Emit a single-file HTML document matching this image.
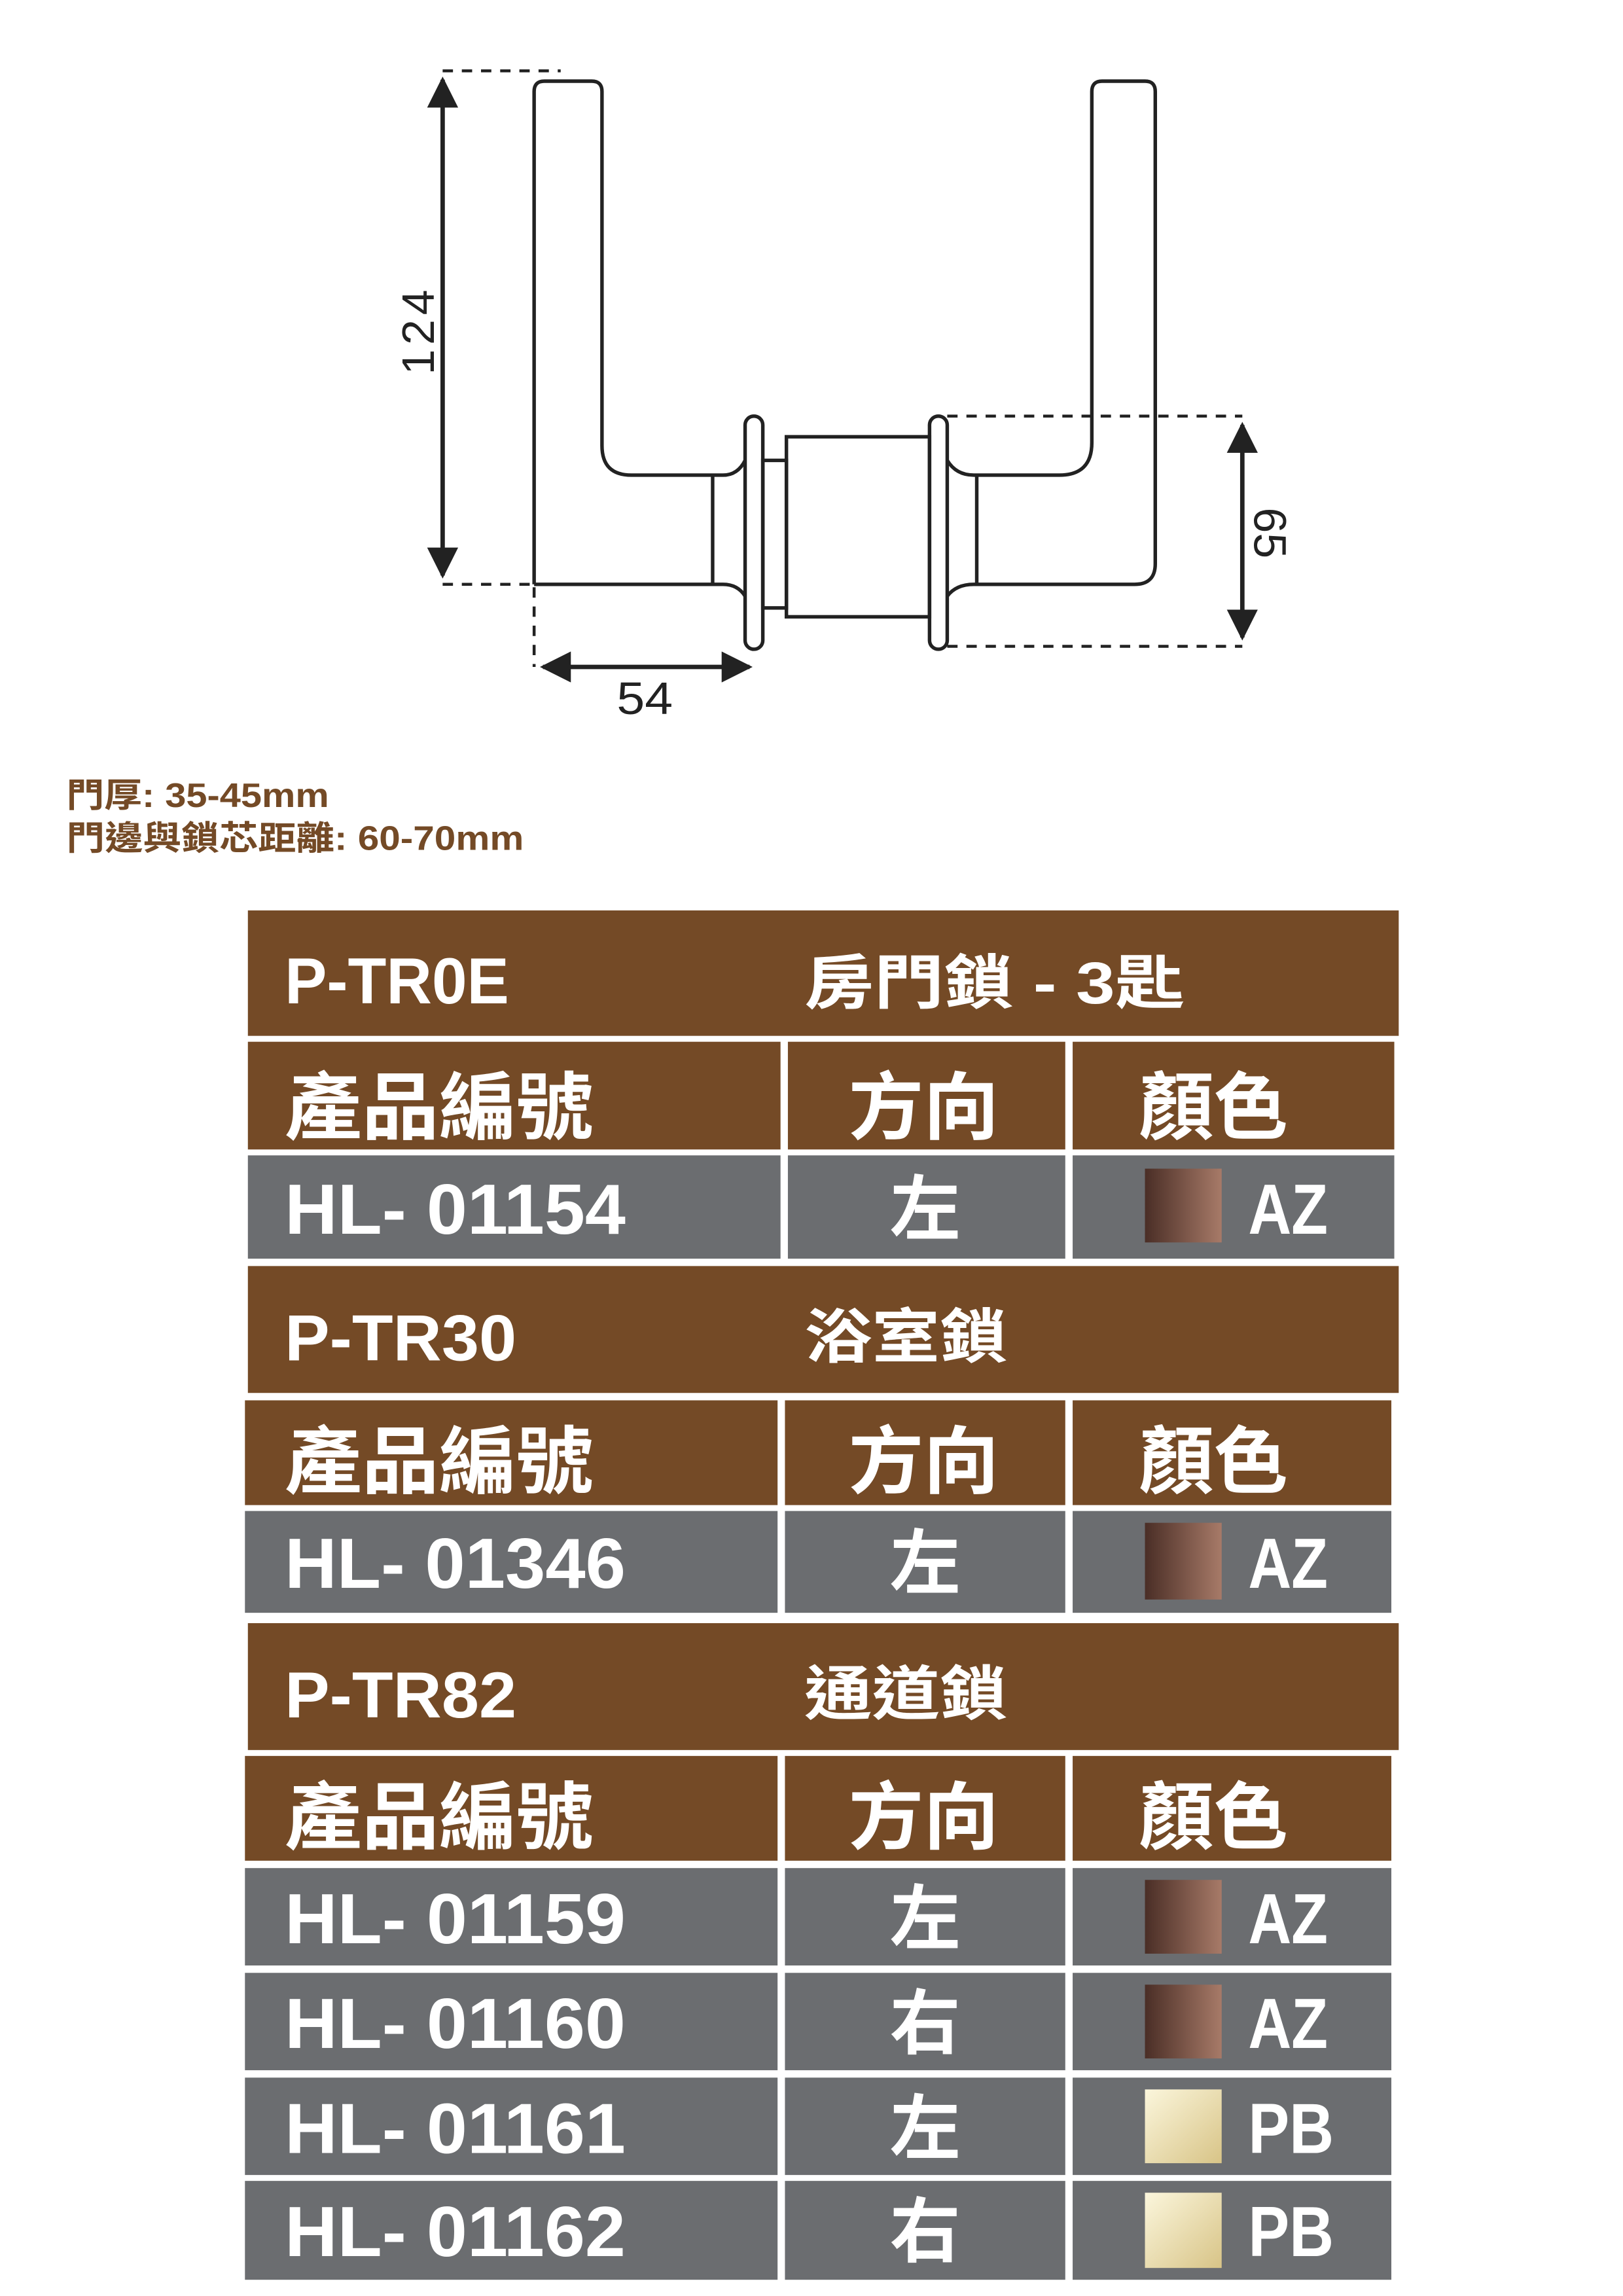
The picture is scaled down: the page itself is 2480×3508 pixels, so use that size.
<!DOCTYPE html>
<html><head><meta charset="utf-8"><style>
html,body{margin:0;padding:0;background:#fff;}
svg{display:block;}
.w{fill:#fff;font-family:"Liberation Sans","Noto Sans CJK TC",sans-serif;font-weight:bold;}
</style></head><body>
<svg width="2480" height="3508" viewBox="0 0 1100 1556" xmlns="http://www.w3.org/2000/svg">
<defs>
<linearGradient id="az" x1="0" x2="1" y1="0" y2="0"><stop offset="0" stop-color="#4a2e26"/><stop offset="1" stop-color="#a77a68"/></linearGradient>
<linearGradient id="pb" x1="0" x2="1" y1="0" y2="1"><stop offset="0" stop-color="#fbf6dc"/><stop offset="1" stop-color="#d8c487"/></linearGradient>
<marker id="ar" viewBox="0 0 10 10" refX="9" refY="5" markerWidth="7" markerHeight="7" orient="auto-start-reverse"><path d="M0,0 L10,5 L0,10 z" fill="#222"/></marker>
</defs>
<g fill="none" stroke="#222" stroke-width="2.4">
<path d="M362,396 L362,62 Q362,55 369,55 L401,55 Q408,55 408,62 L408,302 Q408,322 428,322 L490,322 Q500,322 505,312"/>
<path d="M362,396 L490,396 Q500,396 505,404"/>
<line x1="483" y1="322" x2="483" y2="396"/>
<rect x="505" y="282" width="12" height="158" rx="6"/>
<rect x="517" y="312" width="16" height="100"/>
<rect x="533" y="296" width="97" height="122"/>
<rect x="630" y="282" width="12" height="158" rx="6"/>
<line x1="662" y1="322" x2="662" y2="396"/>
<path d="M642,312 Q648,322 660,322 L718,322 Q740,322 740,300 L740,62 Q740,55 747,55 L776,55 Q783,55 783,62 L783,382 Q783,396 769,396 L660,396 Q648,396 642,404"/>
</g>
<g stroke="#222" stroke-width="2" stroke-dasharray="7,6" fill="none">
<line x1="300" y1="48" x2="380" y2="48"/>
<line x1="300" y1="396" x2="362" y2="396"/>
<line x1="362" y1="398" x2="362" y2="452"/>
<line x1="642" y1="282" x2="842" y2="282"/>
<line x1="642" y1="438" x2="842" y2="438"/>
</g>
<g stroke="#222" stroke-width="3" fill="none">
<line x1="300" y1="54" x2="300" y2="390" marker-start="url(#ar)" marker-end="url(#ar)"/>
<line x1="368" y1="452" x2="508" y2="452" marker-start="url(#ar)" marker-end="url(#ar)"/>
<line x1="842" y1="288" x2="842" y2="432" marker-start="url(#ar)" marker-end="url(#ar)"/>
</g>
<g font-family="Liberation Sans,sans-serif" font-size="31" fill="#222">
<text transform="translate(294,254) rotate(-90)" letter-spacing="3">124</text>
<text x="418" y="484" textLength="38" lengthAdjust="spacingAndGlyphs">54</text>
<text transform="translate(850,344) rotate(90)">65</text>
</g>
<g font-family="Liberation Sans,'Noto Sans CJK TC',sans-serif" font-size="23" fill="#744a26" font-weight="bold">
<text x="45" y="547" textLength="178" lengthAdjust="spacingAndGlyphs">門厚: 35-45mm</text>
<text x="45" y="576" textLength="310" lengthAdjust="spacingAndGlyphs">門邊與鎖芯距離: 60-70mm</text>
</g>
<g fill="#744a26">
<rect x="168" y="617" width="780" height="85"/>
<rect x="168" y="706" width="361" height="73"/><rect x="534" y="706" width="188" height="73"/><rect x="727" y="706" width="218" height="73"/>
<rect x="168" y="858" width="780" height="86"/>
<rect x="166" y="949" width="361" height="71"/><rect x="532" y="949" width="190" height="71"/><rect x="727" y="949" width="216" height="71"/>
<rect x="168" y="1100" width="780" height="86"/>
<rect x="166" y="1190" width="361" height="71"/><rect x="532" y="1190" width="190" height="71"/><rect x="727" y="1190" width="216" height="71"/>
</g>
<g fill="#6b6d70">
<rect x="168" y="783" width="361" height="70"/><rect x="534" y="783" width="188" height="70"/><rect x="727" y="783" width="218" height="70"/>
<rect x="166" y="1024" width="361" height="69"/><rect x="532" y="1024" width="190" height="69"/><rect x="727" y="1024" width="216" height="69"/>
<rect x="166" y="1266" width="361" height="66"/><rect x="532" y="1266" width="190" height="66"/><rect x="727" y="1266" width="216" height="66"/>
<rect x="166" y="1337" width="361" height="66"/><rect x="532" y="1337" width="190" height="66"/><rect x="727" y="1337" width="216" height="66"/>
<rect x="166" y="1408" width="361" height="66"/><rect x="532" y="1408" width="190" height="66"/><rect x="727" y="1408" width="216" height="66"/>
<rect x="166" y="1478" width="361" height="67"/><rect x="532" y="1478" width="190" height="67"/><rect x="727" y="1478" width="216" height="67"/>
</g>
<g class="w">
<text x="193" y="680" font-size="44" textLength="152" lengthAdjust="spacingAndGlyphs">P-TR0E</text>
<text x="545" y="680" font-size="40" textLength="258" lengthAdjust="spacingAndGlyphs">房門鎖 - 3匙</text>
<text x="193" y="768" font-size="50" textLength="209" lengthAdjust="spacingAndGlyphs">產品編號</text>
<text x="575" y="768" font-size="50" textLength="102" lengthAdjust="spacingAndGlyphs">方向</text>
<text x="772" y="768" font-size="50" textLength="101" lengthAdjust="spacingAndGlyphs">顏色</text>
<text x="193" y="836" font-size="48" textLength="231" lengthAdjust="spacingAndGlyphs">HL- 01154</text>
<text x="603" y="836" font-size="48">左</text>
<text x="846" y="836" font-size="48" textLength="54" lengthAdjust="spacingAndGlyphs">AZ</text>

<text x="193" y="922" font-size="44" textLength="157" lengthAdjust="spacingAndGlyphs">P-TR30</text>
<text x="545" y="920" font-size="40" textLength="138" lengthAdjust="spacingAndGlyphs">浴室鎖</text>
<text x="193" y="1008" font-size="50" textLength="209" lengthAdjust="spacingAndGlyphs">產品編號</text>
<text x="575" y="1008" font-size="50" textLength="102" lengthAdjust="spacingAndGlyphs">方向</text>
<text x="772" y="1008" font-size="50" textLength="101" lengthAdjust="spacingAndGlyphs">顏色</text>
<text x="193" y="1076" font-size="48" textLength="231" lengthAdjust="spacingAndGlyphs">HL- 01346</text>
<text x="603" y="1076" font-size="48">左</text>
<text x="846" y="1076" font-size="48" textLength="54" lengthAdjust="spacingAndGlyphs">AZ</text>

<text x="193" y="1164" font-size="44" textLength="157" lengthAdjust="spacingAndGlyphs">P-TR82</text>
<text x="545" y="1162" font-size="40" textLength="138" lengthAdjust="spacingAndGlyphs">通道鎖</text>
<text x="193" y="1249" font-size="50" textLength="209" lengthAdjust="spacingAndGlyphs">產品編號</text>
<text x="575" y="1249" font-size="50" textLength="102" lengthAdjust="spacingAndGlyphs">方向</text>
<text x="772" y="1249" font-size="50" textLength="101" lengthAdjust="spacingAndGlyphs">顏色</text>
<text x="193" y="1317" font-size="48" textLength="231" lengthAdjust="spacingAndGlyphs">HL- 01159</text>
<text x="603" y="1317" font-size="48">左</text>
<text x="846" y="1317" font-size="48" textLength="54" lengthAdjust="spacingAndGlyphs">AZ</text>
<text x="193" y="1388" font-size="48" textLength="231" lengthAdjust="spacingAndGlyphs">HL- 01160</text>
<text x="603" y="1388" font-size="48">右</text>
<text x="846" y="1388" font-size="48" textLength="54" lengthAdjust="spacingAndGlyphs">AZ</text>
<text x="193" y="1459" font-size="48" textLength="231" lengthAdjust="spacingAndGlyphs">HL- 01161</text>
<text x="603" y="1459" font-size="48">左</text>
<text x="846" y="1459" font-size="48" textLength="58" lengthAdjust="spacingAndGlyphs">PB</text>
<text x="193" y="1529" font-size="48" textLength="231" lengthAdjust="spacingAndGlyphs">HL- 01162</text>
<text x="603" y="1529" font-size="48">右</text>
<text x="846" y="1529" font-size="48" textLength="58" lengthAdjust="spacingAndGlyphs">PB</text>
</g>
<rect x="776" y="792" width="52" height="50" fill="url(#az)"/>
<rect x="776" y="1032" width="52" height="52" fill="url(#az)"/>
<rect x="776" y="1274" width="52" height="50" fill="url(#az)"/>
<rect x="776" y="1345" width="52" height="50" fill="url(#az)"/>
<rect x="776" y="1416" width="52" height="50" fill="url(#pb)"/>
<rect x="776" y="1486" width="52" height="51" fill="url(#pb)"/>
</svg>
</body></html>
